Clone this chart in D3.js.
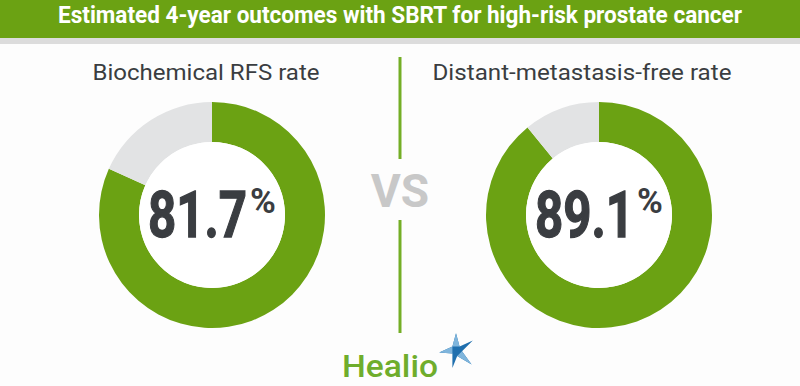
<!DOCTYPE html>
<html>
<head>
<meta charset="utf-8">
<script src="https://cdn.jsdelivr.net/npm/d3@7"></script>
<style>
	html, body { margin: 0; padding: 0; background: #fdfdfd; }
	svg { display: block; }
</style>
</head>
<body>
<svg id="chart" width="800" height="386"></svg>
<script>
// chart data
var title = "Estimated 4-year outcomes with SBRT for high-risk prostate cancer";
var labels = ["Biochemical RFS rate", "Distant-metastasis-free rate"];
var rates = [81.7, 89.1];
var rateText = ["81.7", "89.1"];

var green = "#6ba213";
var grey = "#e2e3e4";
var dark = "#3a3d41";

var svg = d3.select("#chart");

// header bar
svg.append("rect")
	.attr("x", 0).attr("y", 0)
	.attr("width", 800).attr("height", 38)
	.style("fill", green);
svg.append("rect")
	.attr("x", 0).attr("y", 38)
	.attr("width", 800).attr("height", 6)
	.style("fill", "#dcdcdc");
svg.append("text")
	.attr("x", 400)
	.attr("y", 23)
	.attr("textLength", 684)
	.attr("lengthAdjust", "spacingAndGlyphs")
	.style("text-anchor", "middle")
	.style("fill", "#ffffff")
	.style("font-family", "Roboto")
	.style("font-weight", "bold")
	.style("font-size", "24px")
	.text(title);

var x = d3.scalePoint()
	.domain(labels)
	.range([212, 599]);
var cy = 215;

var pie = d3.pie().sort(null).value(function (d) { return d; });
var arc = d3.arc().innerRadius(73).outerRadius(113);
var labelWidth = { "Biochemical RFS rate": 227, "Distant-metastasis-free rate": 299 };

labels.forEach(function (lab, i) {
	var g = svg.append("g")
		.attr("transform", "translate(" + x(lab) + "," + cy + ")");

	g.selectAll("path")
	.data(pie([rates[i], 100 - rates[i]]))
	.enter().append("path")
	.attr("d", arc)
	.style("fill", function (d, j) { return j === 0 ? green : grey; });

	g.append("circle")
	.attr("r", 73)
	.style("fill", "#ffffff");

	// big number, condensed by a horizontal scale
	g.append("g")
	.attr("transform", "translate(35,22) scale(0.77,1)")
	.append("text")
	.style("text-anchor", "end")
	.style("fill", dark)
	.style("stroke", dark)
	.style("stroke-width", 1.3)
	.style("font-family", "Roboto")
	.style("font-weight", "bold")
	.style("font-size", "64px")
	.text(rateText[i]);

	g.append("text")
	.attr("x", 38)
	.attr("y", -2)
	.style("fill", dark)
	.style("font-family", "Roboto")
	.style("font-weight", "bold")
	.style("font-size", "35px")
	.text("%");

	svg.append("text")
	.attr("x", x(lab) - (i === 0 ? 6 : 17))
	.attr("y", 80)
	.attr("textLength", labelWidth[lab])
	.attr("lengthAdjust", "spacingAndGlyphs")
	.style("text-anchor", "middle")
	.style("fill", dark)
	.style("font-family", "Roboto")
	.style("font-size", "22px")
	.text(lab);
});

// divider with VS
svg.append("line")
	.attr("x1", 400).attr("x2", 400)
	.attr("y1", 57).attr("y2", 159)
	.style("stroke", "#74ae26")
	.style("stroke-width", 3);
svg.append("line")
	.attr("x1", 400).attr("x2", 400)
	.attr("y1", 220).attr("y2", 333)
	.style("stroke", "#74ae26")
	.style("stroke-width", 3);
svg.append("text")
	.attr("x", 400)
	.attr("y", 207)
	.style("text-anchor", "middle")
	.style("fill", "#c8c8c8")
	.style("font-family", "Roboto")
	.style("font-weight", "bold")
	.style("font-size", "46px")
	.text("VS");

// logo
svg.append("text")
	.attr("x", 342)
	.attr("y", 377)
	.attr("textLength", 96)
	.attr("lengthAdjust", "spacingAndGlyphs")
	.style("fill", "#6fad2c")
	.style("font-family", "Roboto")
	.style("font-weight", 500)
	.style("font-size", "31px")
	.text("Healio");

var star = svg.append("g").attr("transform", "translate(456,350) scale(1.2)");
star.append("path")
	.attr("d", "M0,-14 L3,-3 L14,-8 L5,1 L13,12 L1,5 L-3,15 L-3,3 L-14,2 L-3,-3 Z")
	.style("fill", "#1f6fae");
star.append("path")
	.attr("d", "M0,-14 L3,-3 L-3,-3 Z M-14,2 L-3,3 L-3,-3 Z M13,12 L5,1 L1,5 Z")
	.style("fill", "#7fb5dc");
</script>
</body>
</html>
